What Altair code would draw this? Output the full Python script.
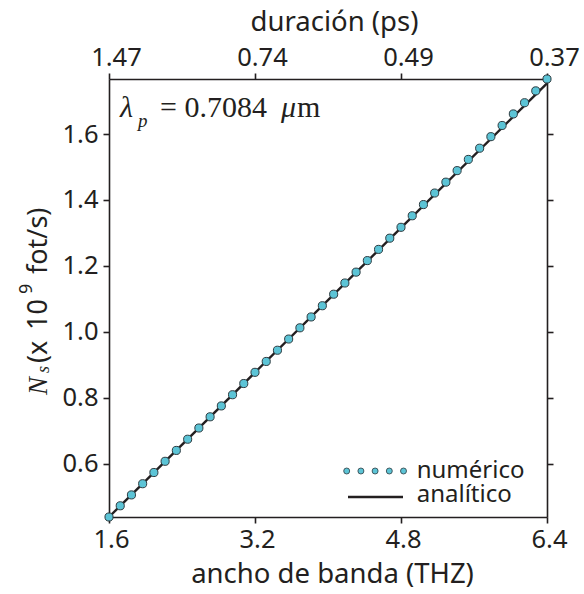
import altair as alt
import pandas as pd

# ---- data ----
bandwidth = [1.600, 1.723, 1.846, 1.969, 2.092, 2.215, 2.338, 2.462, 2.585, 2.708,
             2.831, 2.954, 3.077, 3.200, 3.323, 3.446, 3.569, 3.692, 3.815, 3.938,
             4.062, 4.185, 4.308, 4.431, 4.554, 4.677, 4.800, 4.923, 5.046, 5.169,
             5.292, 5.415, 5.538, 5.662, 5.785, 5.908, 6.031, 6.154, 6.277, 6.400]
numerico = [0.438, 0.472, 0.505, 0.539, 0.573, 0.607, 0.640, 0.674, 0.708, 0.742,
            0.775, 0.809, 0.843, 0.877, 0.910, 0.944, 0.978, 1.012, 1.045, 1.079,
            1.114, 1.148, 1.181, 1.216, 1.250, 1.284, 1.317, 1.352, 1.386, 1.421,
            1.454, 1.489, 1.523, 1.557, 1.592, 1.626, 1.661, 1.695, 1.731, 1.767]
analitico_x = [1.6, 6.4]
analitico_y = [0.438, 1.754]
x_ticks = [1.6, 3.2, 4.8, 6.4]
top_labels = ["1.47", "0.74", "0.49", "0.37"]
y_ticks = [0.6, 0.8, 1.0, 1.2, 1.4, 1.6]

INK = "#231f20"
CYAN = "#5cc4d6"
SANS = "Noto Sans"
SERIF = "Liberation Serif"

df_pts = pd.DataFrame({"x": bandwidth, "y": numerico})
df_line = pd.DataFrame({"x": analitico_x, "y": analitico_y})
one = pd.DataFrame({"a": [0]})

xscale = alt.Scale(domain=[1.6, 6.4], nice=False, zero=False)
yscale = alt.Scale(domain=[0.438, 1.767], nice=False, zero=False)

ax = dict(domainColor=INK, domainWidth=1.6, tickColor=INK, tickWidth=1.6, tickSize=6,
          labelColor=INK, labelFont=SANS, labelFontSize=25.5, grid=False,
          labelFlush=False,
          titleFont=SANS, titleFontSize=27.5, titleColor=INK, titleFontWeight="normal")

top_expr = ""
for v, lab in zip(x_ticks, top_labels):
    top_expr += f"abs(datum.value - {v}) < 0.01 ? '{lab}' : "
top_expr += "''"

line = alt.Chart(df_line).mark_line(color=INK, strokeWidth=2.4).encode(
    x=alt.X("x:Q", scale=xscale,
            axis=alt.Axis(orient="bottom", values=x_ticks, format=".1f",
                          title="ancho de banda (THZ)", labelPadding=4,
                          labelOffset=2, titlePadding=8, titleX=223, **ax)),
    y=alt.Y("y:Q", scale=yscale,
            axis=alt.Axis(orient="left", values=y_ticks, format=".1f",
                          title=None, labelPadding=5, **ax)),
)

frame = alt.Chart(df_line).mark_line(opacity=0).encode(
    x=alt.X("x:Q", scale=xscale,
            axis=alt.Axis(orient="top", values=x_ticks, labelExpr=top_expr,
                          title="duración (ps)", labelPadding=3, labelOffset=7,
                          titlePadding=9, titleX=225, **ax)),
    y=alt.Y("y:Q", scale=yscale,
            axis=alt.Axis(orient="right", values=y_ticks, labels=False,
                          title=None, **ax)),
)

pts = alt.Chart(df_pts).mark_circle(fill=CYAN, stroke="#2d3b40", strokeWidth=1,
                                    size=66, opacity=1).encode(
    x=alt.X("x:Q", scale=xscale, axis=None),
    y=alt.Y("y:Q", scale=yscale, axis=None),
)


def txt(s, x, y, size, font=SANS, style="normal", angle=0, align="left"):
    kw = dict(text=s, font=font, fontSize=size, fontStyle=style, color=INK,
              align=align, baseline="alphabetic")
    if angle:
        kw["angle"] = angle
    return alt.Chart(one).mark_text(**kw).encode(x=alt.value(x), y=alt.value(y))


# annotation lambda_p = 0.7084 um (pixel offsets are relative to plot area origin)
OX, OY = 109, 79
texts = [
    txt("λ", 120 - OX, 117 - OY, 30, SERIF, "italic"),
    txt("p", 138 - OX, 127 - OY, 19, SERIF, "italic"),
    txt("= 0.7084", 160 - OX, 117 - OY, 30, SERIF),
    txt("μ", 281 - OX, 117 - OY, 30, SERIF, "italic"),
    txt("m", 297 - OX, 117 - OY, 30, SERIF),
    # y-axis title pieces
    txt("N", 46.5 - OX, 395 - OY, 27, SERIF, "italic", 270),
    txt("s", 49 - OX, 373 - OY, 18, SERIF, "italic", 270),
    txt("(x", 46.5 - OX, 363 - OY, 27, SANS, "normal", 270),
    txt("10", 46.5 - OX, 330 - OY, 27, SANS, "normal", 270),
    txt("9", 32 - OX, 294 - OY, 18, SANS, "normal", 270),
    txt("fot/s)", 46.5 - OX, 274 - OY, 27, SANS, "normal", 270),
    # legend text
    txt("numérico", 416.7 - OX, 478 - OY, 24),
    txt("analítico", 416.7 - OX, 501.7 - OY, 24),
]

legend_dot_px = [346.7, 360.9, 375.1, 389.3, 403.5]
legend_dots = [
    alt.Chart(one).mark_circle(fill=CYAN, stroke="#2d3b40", strokeWidth=0.8,
                               size=36, opacity=1).encode(
        x=alt.value(px - OX), y=alt.value(471 - OY))
    for px in legend_dot_px
]
legend_line = alt.Chart(one).mark_rule(color=INK, strokeWidth=2.4).encode(
    x=alt.value(348 - OX), x2=alt.value(403 - OX), y=alt.value(497 - OY))

chart = alt.layer(line, frame, pts, *texts, *legend_dots, legend_line).resolve_axis(
    x="independent", y="independent"
).properties(
    width=438, height=438,
    padding={"left": OX, "top": OY, "right": 37, "bottom": 77},
    autosize="none",
).configure_view(strokeWidth=0).configure(background="white")

chart.save("out.html", embed_options={"renderer": "svg", "actions": False})
